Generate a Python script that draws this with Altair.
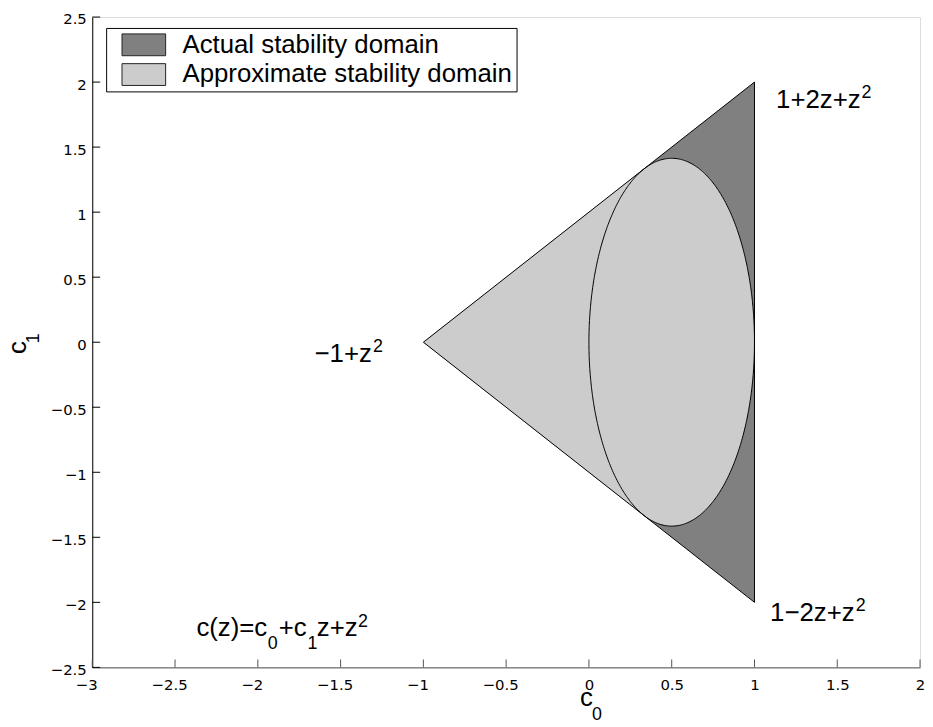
import numpy as np
import pandas as pd
import altair as alt

ACT = "Actual stability domain"
APP = "Approximate stability domain"

# Actual stability domain: triangle (c0, upper c1, lower c1)
tri_c0 = [-1.0, 1.0]
tri_hi = [0.0, 2.0]
tri_lo = [0.0, -2.0]
tri_out_c0 = [-1.0, 1.0, 1.0, -1.0]
tri_out_c1 = [0.0, 2.0, -2.0, 0.0]

# Approximate stability domain: kite to the tangency points + ellipse
kite_c0 = [-1.0, 1.0 / 3.0]
kite_hi = [0.0, 4.0 / 3.0]
kite_lo = [0.0, -4.0 / 3.0]
ell_center = [0.5, 0.0]
ell_semi = [0.5, 1.414]

x_ticks = [-3, -2.5, -2, -1.5, -1, -0.5, 0, 0.5, 1, 1.5, 2]
y_ticks = [-2.5, -2, -1.5, -1, -0.5, 0, 0.5, 1, 1.5, 2, 2.5]

# corner labels: base text, anchor (end of base text, baseline)
lab_text = ["1+2z+z", "1\u22122z+z", "\u22121+z"]
lab_c0 = [1.641, 1.605, -1.311]
lab_c1 = [1.799, -2.142, -0.152]

formula_c0 = [-2.371]
formula_c1 = [-2.258]
formula_parts = ["c(z)=c", "0", "+c", "1", "z+z", "2"]

FONT = "Liberation Sans"
TICKFONT = "DejaVu Sans"
W, H = 835, 656

xs = alt.Scale(domain=[-3, 2], nice=False, zero=False)
ys = alt.Scale(domain=[-2.5, 2.5], nice=False, zero=False)
cscale = alt.Scale(domain=[ACT, APP], range=["#808080", "#cccccc"])

legend = alt.Legend(
    title=None, orient="none", legendX=14, legendY=11,
    symbolType="M-0.09,-1H3.91V1H-0.09Z", symbolSize=484,
    symbolStrokeColor="#222", symbolStrokeWidth=1, symbolOpacity=1,
    labelFont=FONT, labelFontSize=26, labelColor="black", labelOffset=47,
    labelLimit=600, padding=4, rowPadding=4,
    strokeColor="black", fillColor="white", cornerRadius=0,
)

lab_expr = "replace(format(datum.value, '~g'), '-', '\u2212')"
xaxis = alt.Axis(values=x_ticks, ticks=False, grid=False, domainColor="#555",
                 labelFont=TICKFONT, labelFontSize=15, labelColor="black",
                 labelPadding=10, title=None, labelFlush=False, labelOverlap=False,
                 labelOffset=alt.condition("datum.value < 0", alt.value(-6), alt.value(0)),
                 labelExpr=lab_expr)
yaxis = alt.Axis(values=y_ticks, ticks=False, grid=False, domainColor="black",
                 labelFont=TICKFONT, labelFontSize=15, labelColor="black",
                 labelPadding=6, labelOffset=2, title=None, labelFlush=False,
                 labelOverlap=False, labelExpr=lab_expr)

tri_df = pd.DataFrame({"c0": tri_c0, "hi": tri_hi, "lo": tri_lo, "domain": ACT})
kite_df = pd.DataFrame({"c0": kite_c0, "hi": kite_hi, "lo": kite_lo, "domain": APP})

t = np.linspace(-np.pi / 2, np.pi / 2, 241)
ell_df = pd.DataFrame({
    "c1": ell_center[1] + ell_semi[1] * np.sin(t),
    "left": ell_center[0] - ell_semi[0] * np.cos(t),
    "right": ell_center[0] + ell_semi[0] * np.cos(t),
    "domain": APP,
})
tt = np.linspace(0, 2 * np.pi, 481)
ell_out = pd.DataFrame({
    "k": np.arange(len(tt)),
    "c0": ell_center[0] + ell_semi[0] * np.cos(tt),
    "c1": ell_center[1] + ell_semi[1] * np.sin(tt),
})
tri_out = pd.DataFrame({"k": range(4), "c0": tri_out_c0, "c1": tri_out_c1})

area_tri = alt.Chart(tri_df).mark_area(orient="vertical", opacity=1).encode(
    x=alt.X("c0:Q", scale=xs, axis=xaxis),
    y=alt.Y("hi:Q", scale=ys, axis=yaxis),
    y2="lo:Q",
    color=alt.Color("domain:N", scale=cscale, legend=legend),
)
area_kite = alt.Chart(kite_df).mark_area(orient="vertical", opacity=1).encode(
    x=alt.X("c0:Q", scale=xs), y=alt.Y("hi:Q", scale=ys), y2="lo:Q",
    color=alt.Color("domain:N", scale=cscale, legend=legend),
)
area_ell = alt.Chart(ell_df).mark_area(orient="horizontal", opacity=1).encode(
    y=alt.Y("c1:Q", scale=ys), x=alt.X("left:Q", scale=xs), x2="right:Q",
    color=alt.Color("domain:N", scale=cscale, legend=legend),
)
line_ell = alt.Chart(ell_out).mark_line(color="black", strokeWidth=1).encode(
    x=alt.X("c0:Q", scale=xs), y=alt.Y("c1:Q", scale=ys), order="k:Q")
line_tri = alt.Chart(tri_out).mark_line(color="black", strokeWidth=1).encode(
    x=alt.X("c0:Q", scale=xs), y=alt.Y("c1:Q", scale=ys), order="k:Q")

xt = alt.Chart(pd.DataFrame({"v": x_ticks})).mark_rule(color="#555", strokeWidth=1).encode(
    x=alt.X("v:Q", scale=xs), y=alt.value(H), y2=alt.value(H - 8))
yt = alt.Chart(pd.DataFrame({"v": y_ticks})).mark_rule(color="black", strokeWidth=1).encode(
    y=alt.Y("v:Q", scale=ys), x=alt.value(0), x2=alt.value(8))

lab_df = pd.DataFrame({"text": lab_text, "c0": lab_c0, "c1": lab_c1})
lab_base = alt.Chart(lab_df).mark_text(font=FONT, fontSize=26, align="right",
                                       baseline="alphabetic", color="black").encode(
    x=alt.X("c0:Q", scale=xs), y=alt.Y("c1:Q", scale=ys), text="text:N")
lab_sup = alt.Chart(lab_df).mark_text(font=FONT, fontSize=18, align="left",
                                      baseline="alphabetic", color="black", dx=1, dy=-10).encode(
    x=alt.X("c0:Q", scale=xs), y=alt.Y("c1:Q", scale=ys), text=alt.value("2"))

fdf = pd.DataFrame({"c0": formula_c0, "c1": formula_c1})
offsets = [(0, 0, 26), (72, 13, 18), (83, 0, 26), (112, 13, 18), (121.5, 0, 26), (163, -9, 18)]
formula_layers = []
for txt, (dx, dy, fs) in zip(formula_parts, offsets):
    formula_layers.append(
        alt.Chart(fdf).mark_text(font=FONT, fontSize=fs, align="left", baseline="alphabetic",
                                 color="black", dx=dx, dy=dy, text=txt).encode(
            x=alt.X("c0:Q", scale=xs), y=alt.Y("c1:Q", scale=ys)))

title_df = pd.DataFrame({"a": [0]})
xtitle_c = alt.Chart(title_df).mark_text(font=FONT, fontSize=26, align="left", baseline="alphabetic",
                                         text="c", color="black").encode(
    x=alt.value(492), y=alt.value(695))
xtitle_s = alt.Chart(title_df).mark_text(font=FONT, fontSize=18, align="left", baseline="alphabetic",
                                         text="0", color="black").encode(
    x=alt.value(504), y=alt.value(709))
ytitle_c = alt.Chart(title_df).mark_text(font=FONT, fontSize=26, align="left", baseline="alphabetic",
                                         text="c", angle=270, color="black").encode(
    x=alt.value(-67), y=alt.value(340))
ytitle_s = alt.Chart(title_df).mark_text(font=FONT, fontSize=18, align="left", baseline="alphabetic",
                                         text="1", angle=270, color="black").encode(
    x=alt.value(-54), y=alt.value(329))

chart = alt.layer(
    area_tri, area_kite, area_ell, line_ell, line_tri, xt, yt,
    lab_base, lab_sup, *formula_layers, xtitle_c, xtitle_s, ytitle_c, ytitle_s,
).properties(
    width=W, height=H,
    padding={"left": 85, "top": 6, "right": 5, "bottom": 55},
    autosize=alt.AutoSizeParams(type="none"),
).configure_view(stroke=None).configure(background="white")

chart.save("out.html", embed_options={"renderer": "svg", "actions": False})
